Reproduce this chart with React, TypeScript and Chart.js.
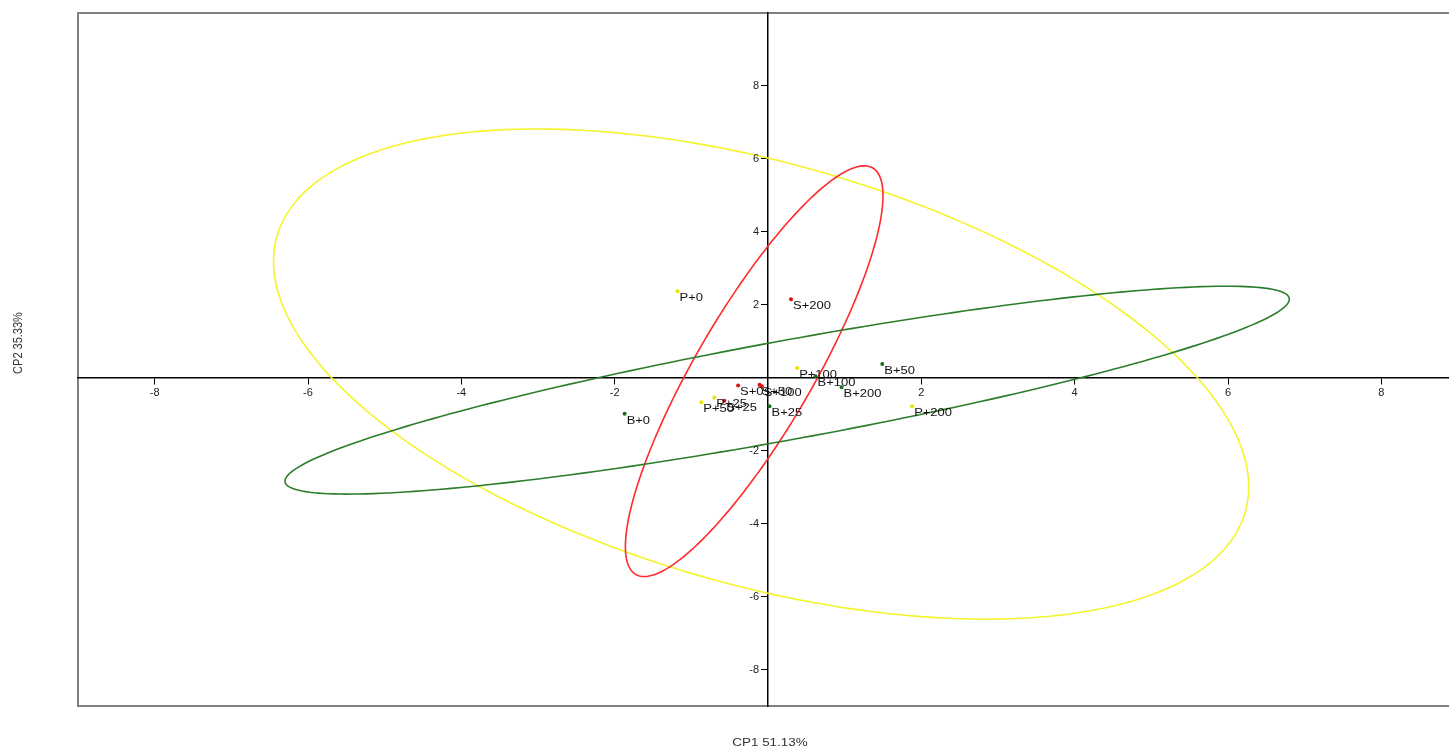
import React, { useEffect, useRef } from 'react';
import { Chart, registerables } from 'chart.js';

Chart.register(...registerables);

// ---- Data ----
const pLabels = ['P+0', 'P+25', 'P+50', 'P+100', 'P+200'];
const pX = [-1.18, -0.70, -0.87, 0.38, 1.88];
const pY = [2.37, -0.54, -0.67, 0.27, -0.78];

const sLabels = ['S+0', 'S+25', 'S+50', 'S+100', 'S+200'];
const sX = [-0.39, -0.57, -0.11, -0.08, 0.30];
const sY = [-0.21, -0.63, -0.19, -0.23, 2.15];

const bLabels = ['B+0', 'B+25', 'B+50', 'B+100', 'B+200'];
const bX = [-1.87, 0.02, 1.49, 0.62, 0.96];
const bY = [-0.99, -0.78, 0.38, 0.04, -0.26];

// Confidence ellipses (P, S, B): centre, half-extent in x, half-extent in y, phase cosine
const ellipseCX = [-0.09, -0.18, 0.25];
const ellipseCY = [0.10, 0.18, -0.34];
const ellipseRX = [6.36, 1.68, 6.55];
const ellipseRY = [6.72, 5.63, 2.85];
const ellipseCos = [-0.46, 0.854, 0.875];

const xTicks = [-8, -6, -4, -2, 2, 4, 6, 8];
const yTicks = [-8, -6, -4, -2, 2, 4, 6, 8];

const xTitle = 'CP1 51.13%';
const yTitle = 'CP2 35.33%';

const groupColors = ['#e6e600', '#e01010', '#1f6e1f'];
const ellipseColors = ['#f4f42e', '#ff2a2a', '#2a7d2a'];

const FONT = '"Liberation Sans", Arial, sans-serif';

const overlayPlugin = {
  id: 'overlay',
  beforeDraw(chart: any) {
    const { ctx, chartArea } = chart;
    ctx.save();
    ctx.fillStyle = '#ffffff';
    ctx.fillRect(0, 0, chart.width, chart.height);
    ctx.strokeStyle = '#7f7f7f';
    ctx.lineWidth = 2;
    ctx.strokeRect(chartArea.left, chartArea.top, chartArea.right - chartArea.left, chartArea.bottom - chartArea.top);
    ctx.restore();
  },
  beforeDatasetsDraw(chart: any) {
    const { ctx, chartArea } = chart;
    const xs = chart.scales.x;
    const ys = chart.scales.y;
    ctx.save();
    ctx.beginPath();
    ctx.rect(chartArea.left, chartArea.top, chartArea.right - chartArea.left, chartArea.bottom - chartArea.top);
    ctx.clip();
    for (let e = 0; e < ellipseCX.length; e++) {
      const phi = Math.acos(ellipseCos[e]);
      ctx.beginPath();
      const n = 240;
      for (let i = 0; i <= n; i++) {
        const t = (i / n) * Math.PI * 2;
        const vx = ellipseCX[e] + ellipseRX[e] * Math.cos(t);
        const vy = ellipseCY[e] + ellipseRY[e] * Math.cos(t + phi);
        const px = xs.getPixelForValue(vx);
        const py = ys.getPixelForValue(vy);
        if (i === 0) ctx.moveTo(px, py);
        else ctx.lineTo(px, py);
      }
      ctx.closePath();
      ctx.strokeStyle = ellipseColors[e];
      ctx.lineWidth = 1.6;
      ctx.stroke();
    }
    ctx.restore();
  },
  afterDatasetsDraw(chart: any) {
    const { ctx } = chart;
    const xs = chart.scales.x;
    const ys = chart.scales.y;
    const groups = [
      [pLabels, pX, pY],
      [sLabels, sX, sY],
      [bLabels, bX, bY],
    ] as any[];
    ctx.save();
    ctx.font = `11px ${FONT}`;
    ctx.fillStyle = '#111111';
    ctx.textBaseline = 'middle';
    ctx.textAlign = 'left';
    for (const [labels, gx, gy] of groups) {
      for (let i = 0; i < labels.length; i++) {
        const px = xs.getPixelForValue(gx[i]);
        const py = ys.getPixelForValue(gy[i]);
        ctx.save();
        ctx.translate(px + 2, py + 7);
        ctx.scale(1.18, 1);
        ctx.fillText(labels[i], 0, 0);
        ctx.restore();
      }
    }
    ctx.restore();
  },
  afterDraw(chart: any) {
    const { ctx } = chart;
    const xs = chart.scales.x;
    const ys = chart.scales.y;
    // y tick labels, to the left of the vertical axis
    ctx.save();
    ctx.font = `11px ${FONT}`;
    ctx.fillStyle = '#222222';
    ctx.textAlign = 'right';
    ctx.textBaseline = 'middle';
    const ax = xs.getPixelForValue(0);
    for (const t of ys.ticks) {
      const py = ys.getPixelForValue(t.value);
      ctx.fillText(String(t.value), ax - 9, py);
    }
    ctx.restore();

    ctx.save();
    ctx.font = `11px ${FONT}`;
    ctx.fillStyle = '#333333';
    ctx.textAlign = 'center';
    ctx.textBaseline = 'middle';
    ctx.save();
    ctx.translate(770, 743);
    ctx.scale(1.22, 1);
    ctx.fillText(xTitle, 0, 0);
    ctx.restore();
    ctx.save();
    ctx.translate(18, 343);
    ctx.rotate(-Math.PI / 2);
    ctx.scale(1.0, 1.18);
    ctx.fillText(yTitle, 0, 0);
    ctx.restore();
    ctx.restore();
  },
};

function makeData(xs: number[], ys: number[]) {
  return xs.map((x, i) => ({ x, y: ys[i] }));
}

export default function App() {
  const canvasRef = useRef<HTMLCanvasElement | null>(null);

  useEffect(() => {
    const canvas = canvasRef.current;
    if (!canvas) return;
    const axisCommon = (ticks: number[], showLabels: boolean) => ({
      type: 'linear' as const,
      afterBuildTicks: (scale: any) => {
        scale.ticks = ticks.map((v) => ({ value: v }));
      },
      grid: {
        drawOnChartArea: false,
        drawTicks: true,
        tickLength: 6,
        color: '#000000',
        lineWidth: 1,
      },
      border: { color: '#000000', width: 1.5 },
      ticks: {
        display: showLabels,
        font: { size: 11, family: FONT },
        color: '#222222',
        padding: 3,
        maxRotation: 0,
        autoSkip: false,
        callback: (v: any) => String(v),
      },
    });
    const chart = new Chart(canvas, {
      type: 'scatter',
      data: {
        datasets: [
          { label: 'P', data: makeData(pX, pY), backgroundColor: groupColors[0], borderWidth: 0, pointRadius: 2 },
          { label: 'S', data: makeData(sX, sY), backgroundColor: groupColors[1], borderWidth: 0, pointRadius: 2 },
          { label: 'B', data: makeData(bX, bY), backgroundColor: groupColors[2], borderWidth: 0, pointRadius: 2 },
        ],
      },
      options: {
        animation: false,
        responsive: false,
        devicePixelRatio: 1,
        layout: { padding: { left: 78, top: 13, right: 12, bottom: 43 } },
        plugins: { legend: { display: false }, tooltip: { enabled: false } },
        scales: {
          x: { ...axisCommon(xTicks, true), min: -9, max: 9, position: { y: 0 } },
          y: { ...axisCommon(yTicks, false), min: -9, max: 10, position: { x: 0 } },
        },
      } as any,
      plugins: [overlayPlugin],
    });
    return () => chart.destroy();
  }, []);

  return (
    <div style={{ position: 'fixed', left: 0, top: 0, width: 1449, height: 749, overflow: 'hidden', background: '#fff' }}>
      <canvas ref={canvasRef} width={1470} height={749} style={{ display: 'block' }} />
    </div>
  );
}
